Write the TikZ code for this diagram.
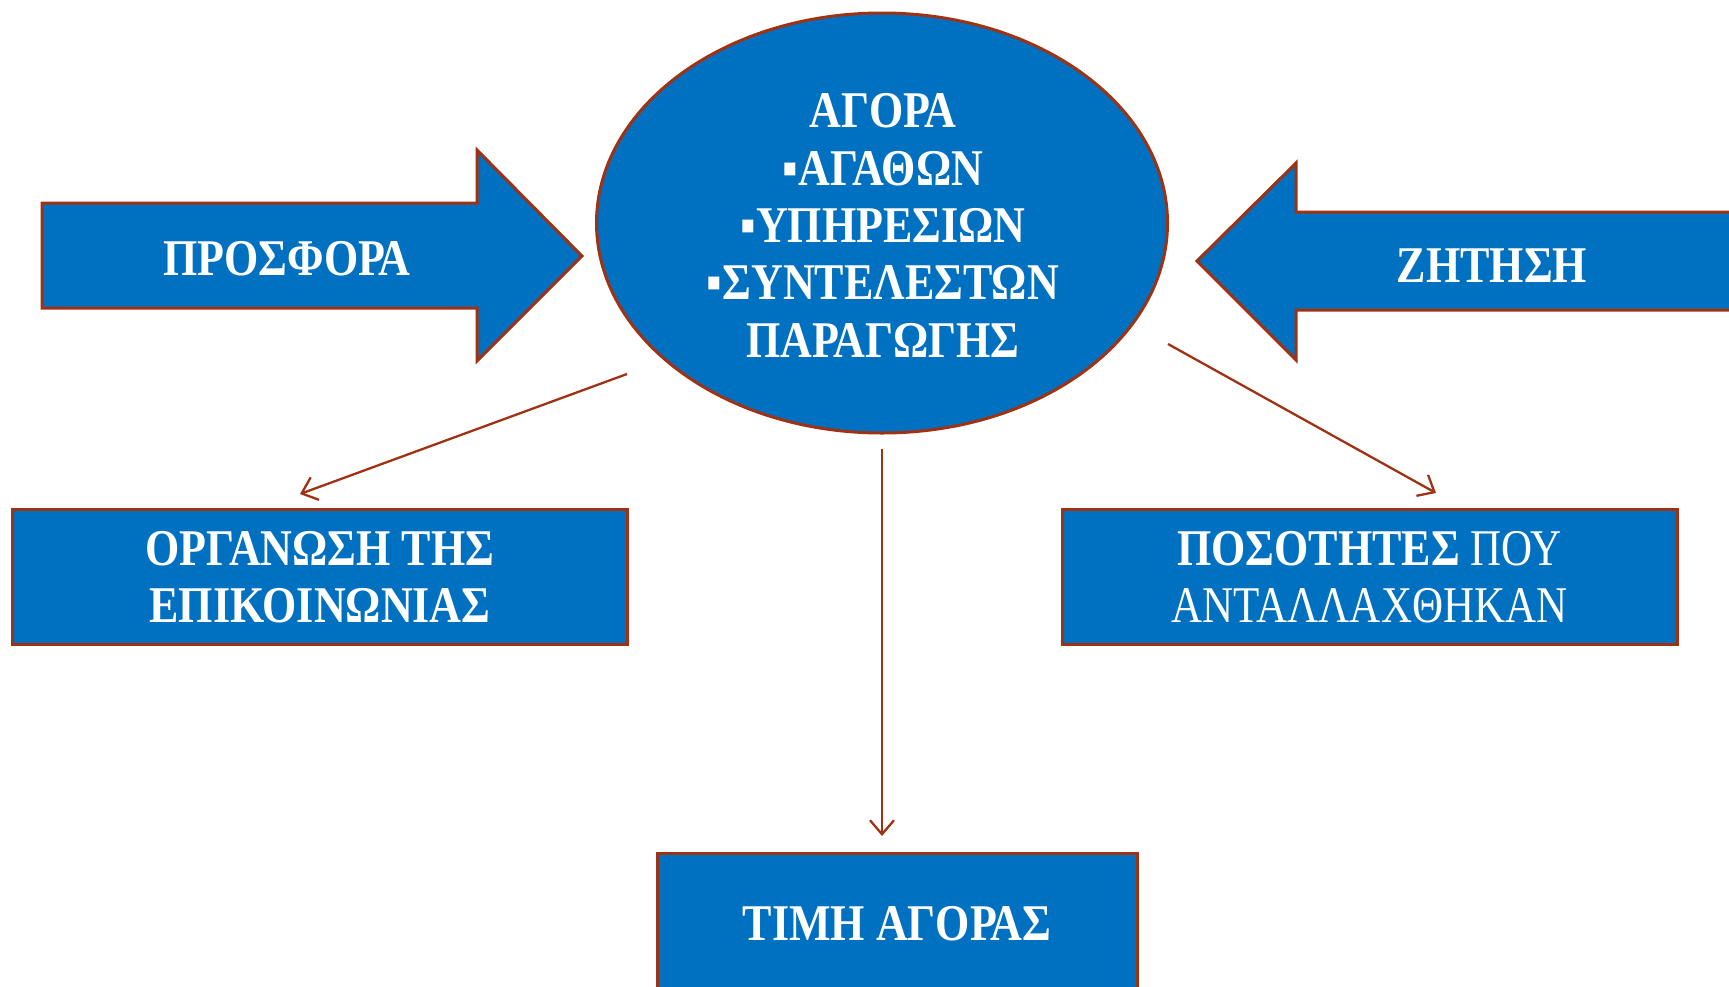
\documentclass[tikz,border=0pt]{standalone}
\usepackage{fontspec}
\setmainfont{Liberation Serif}[UprightFeatures={FakeStretch=0.835},BoldFeatures={FakeStretch=0.855}]
\usetikzlibrary{arrows.meta,shapes.geometric}
\definecolor{fillblue}{RGB}{0,112,192}
\definecolor{edgered}{RGB}{160,50,20}
\begin{document}
\begin{tikzpicture}[x=1pt,y=-1pt,
  txt/.style={text=white,font=\fontsize{51.5}{57.4}\selectfont,align=center},
  btxt/.style={txt,font=\fontsize{51.5}{57.4}\selectfont\bfseries},
  shapeedge/.style={draw=edgered,line width=3pt,fill=fillblue},
  conn/.style={draw=edgered,line width=2.3pt,-{Straight Barb[length=14pt,width=24pt,line width=2.3pt]}}]
\useasboundingbox (0,0) rectangle (1729,986);
% central ellipse
\node[shapeedge,ellipse,minimum width=571pt,minimum height=420pt,inner sep=0pt] (agora) at (882,223) {};
\node[btxt] (agoratxt) at (883,225.5)
  {ΑΓΟΡΑ\\▪ΑΓΑΘΩΝ\\▪ΥΠΗΡΕΣΙΩΝ\\▪ΣΥΝΤΕΛΕΣΤΩΝ\\ΠΑΡΑΓΩΓΗΣ};
% supply arrow
\draw[shapeedge] (42,203) -- (477,203) -- (477,150) -- (582,256) -- (477,361) -- (477,308) -- (42,308) -- cycle;
\node[btxt] (prosfora) at (287,258.5) {ΠΡΟΣΦΟΡΑ};
% demand arrow
\draw[shapeedge] (1197,261) -- (1296,163) -- (1296,212) -- (1745,212) -- (1745,310) -- (1296,310) -- (1296,360) -- cycle;
\node[btxt] (zitisi) at (1492,265.5) {ΖΗΤΗΣΗ};
% boxes
\node[shapeedge,btxt,minimum width=615pt,minimum height=135pt,inner sep=0pt] (org) at (320,577)
  {ΟΡΓΑΝΩΣΗ ΤΗΣ\\ΕΠΙΚΟΙΝΩΝΙΑΣ};
\node[shapeedge,txt,minimum width=615pt,minimum height=135pt,inner sep=0pt] (pos) at (1369.5,577)
  {{\bfseries ΠΟΣΟΤΗΤΕΣ} ΠΟΥ\\ΑΝΤΑΛΛΑΧΘΗΚΑΝ};
\node[shapeedge,btxt,minimum width=480pt,minimum height=142pt,inner sep=0pt] (timi) at (897,924)
  {ΤΙΜΗ ΑΓΟΡΑΣ};
% connectors
\coordinate (c1s) at (627,374);
\coordinate (c1e) at (300,494);
\coordinate (c2s) at (882,449);
\coordinate (c2e) at (882,836);
\coordinate (c3s) at (1168,344);
\coordinate (c3e) at (1436,493);
\draw[conn] (c1s) -- (c1e);
\draw[conn] (c2s) -- (c2e);
\draw[conn] (c3s) -- (c3e);
\end{tikzpicture}
\end{document}
